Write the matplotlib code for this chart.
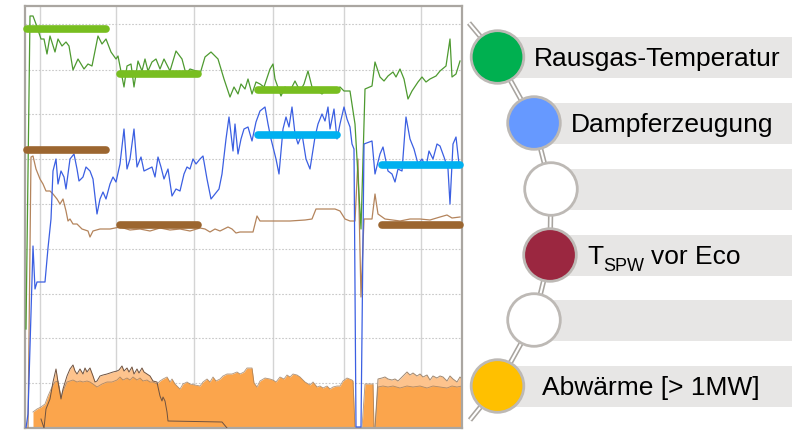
import matplotlib
matplotlib.use('Agg')
import matplotlib.pyplot as plt
from matplotlib.patches import Circle, Rectangle

plt.rcParams['font.family'] = ['Liberation Sans', 'DejaVu Sans']

# time axis in minutes, values in arbitrary units (no axis labels on the chart)
rauchgas_t = [1, 5, 8, 11, 16, 19, 22, 25, 30, 33, 37, 41, 44, 48, 53, 59, 63, 67, 73, 77, 81, 86, 91, 93,
              99, 102, 106, 109, 113, 117, 120, 123, 127, 131, 135, 139, 145, 151, 157, 161, 165, 171, 175,
              180, 186, 193, 199, 205, 209, 213, 216, 220, 223, 227, 231, 235, 239, 245, 248, 250, 256, 260,
              265, 270, 275, 279, 283, 287, 293, 297, 302, 307, 315, 319, 325, 330, 336, 340, 347, 350, 355,
              359, 363, 368, 371, 375, 379, 383, 387, 393, 397, 401, 405, 411, 415, 421, 425, 427, 431, 435]
rauchgas = [99, 412, 412, 404, 389, 389, 374, 392, 376, 389, 382, 386, 382, 358, 369, 359, 364, 362, 392, 384,
            389, 376, 369, 372, 341, 362, 364, 341, 367, 357, 369, 357, 366, 369, 359, 369, 357, 377, 369, 354,
            359, 357, 354, 371, 376, 369, 349, 331, 341, 334, 344, 339, 349, 334, 346, 344, 341, 359, 364, 349,
            332, 341, 337, 347, 337, 344, 357, 341, 337, 334, 339, 337, 341, 337, 337, 304, 199, 339, 342, 366,
            351, 347, 352, 356, 351, 359, 349, 329, 337, 346, 351, 346, 349, 352, 357, 362, 389, 351, 354, 367]

dampf_t = [1, 3, 8, 10, 12, 15, 20, 23, 26, 28, 31, 33, 36, 39, 41, 45, 49, 52, 54, 58, 61, 65, 68, 72, 75,
           78, 81, 85, 88, 91, 95, 99, 102, 105, 109, 112, 116, 119, 123, 127, 130, 133, 136, 139, 143, 147,
           151, 155, 159, 162, 165, 168, 171, 175, 178, 182, 186, 190, 194, 197, 201, 204, 208, 210, 213, 216,
           219, 223, 227, 231, 235, 240, 243, 246, 251, 254, 258, 261, 264, 267, 270, 273, 277, 281, 285, 290,
           293, 297, 300, 303, 305, 309, 312, 315, 319, 322, 325, 327, 329, 331, 336, 339, 347, 350, 355, 358,
           363, 367, 370, 373, 377, 381, 385, 389, 393, 397, 401, 404, 408, 412, 415, 419, 423, 425, 428, 431,
           434]
dampf = [0, 14, 182, 139, 146, 146, 146, 180, 209, 257, 269, 244, 257, 251, 239, 269, 274, 259, 247, 251, 261,
         257, 249, 214, 229, 236, 229, 244, 251, 246, 264, 299, 259, 269, 299, 261, 271, 257, 259, 261, 251,
         271, 261, 249, 259, 232, 239, 237, 254, 261, 259, 269, 264, 269, 272, 249, 229, 234, 239, 254, 289,
         311, 277, 304, 274, 289, 299, 301, 287, 306, 317, 321, 304, 289, 269, 254, 299, 311, 301, 321, 294,
         284, 294, 269, 259, 291, 304, 314, 307, 321, 299, 319, 289, 304, 321, 309, 301, 284, 279, 1, 1, 284,
         287, 254, 274, 281, 257, 254, 246, 259, 257, 311, 289, 279, 264, 269, 261, 277, 269, 284, 282, 271,
         259, 224, 284, 291, 264]

spw_t = [3, 6, 8, 11, 15, 18, 21, 25, 28, 32, 35, 38, 41, 43, 45, 48, 52, 57, 63, 65, 68, 75, 85, 95, 105,
         115, 125, 135, 145, 155, 165, 175, 180, 185, 190, 195, 203, 207, 211, 215, 218, 225, 228, 232, 235,
         250, 265, 280, 287, 291, 300, 310, 315, 320, 325, 330, 333, 336, 339, 347, 350, 353, 360, 375, 385,
         395, 405, 415, 422, 427, 435]
spw = [0, 271, 272, 259, 249, 244, 237, 237, 234, 229, 224, 229, 217, 207, 209, 204, 204, 199, 197, 191, 197,
       199, 199, 201, 198, 199, 197, 200, 198, 199, 197, 200, 199, 196, 199, 197, 201, 199, 195, 196, 196,
       196, 196, 212, 207, 207, 207, 208, 209, 219, 219, 219, 217, 209, 207, 207, 269, 131, 209, 209, 234,
       214, 209, 207, 209, 209, 208, 211, 213, 210, 211]

# Abwaerme: main (dark) area, peak envelope (light) and single line
abw_t = [8, 12, 16, 20, 23, 27, 30, 33, 36, 38, 42, 45, 48, 52, 55, 58, 62, 65, 68, 72, 77, 82, 87, 92, 95,
         98, 102, 105, 108, 112, 115, 118, 122, 125, 128, 132, 135, 138, 142, 145, 147, 150, 152, 155, 158,
         162, 165, 170, 175, 178, 182, 185, 188, 191, 195, 198, 202, 207, 212, 215, 219, 222, 227, 229, 232,
         235, 240, 245, 248, 251, 255, 259, 262, 265, 268, 272, 275, 280, 285, 288, 292, 295, 298, 302, 305,
         308, 312, 315, 318, 322, 327, 328, 330, 337, 340, 348, 349, 350, 353, 358, 363, 368, 375, 382, 388,
         395, 402, 408, 415, 422, 427, 432, 437]
abw = [16, 19, 21, 24, 32, 41, 46, 47, 31, 37, 46, 47, 48, 46, 47, 46, 47, 46, 44, 41, 44, 46, 46, 48, 51, 48,
       50, 48, 51, 48, 50, 47, 48, 46, 46, 44, 47, 49, 51, 46, 49, 44, 42, 39, 44, 46, 44, 43, 42, 46, 49, 46,
       51, 47, 49, 52, 54, 54, 56, 54, 56, 60, 60, 45, 41, 47, 50, 49, 48, 46, 51, 49, 53, 51, 54, 53, 51, 46,
       43, 46, 41, 42, 40, 42, 39, 41, 42, 42, 47, 50, 48, 47, 0, 0, 44, 44, 0, 0, 41, 42, 41, 42, 40, 42, 41,
       42, 40, 42, 41, 40, 42, 41, 42]

abw_peak_t = [350, 353, 357, 360, 363, 367, 370, 373, 377, 380, 382, 385, 388, 392, 395, 398, 402, 405, 408,
              412, 415, 418, 422, 425, 428, 432, 435, 437]
abw_peak = [0, 49, 50, 51, 49, 48, 49, 47, 51, 54, 56, 53, 55, 52, 54, 51, 53, 48, 52, 50, 52, 51, 47, 52, 49,
            46, 51, 49]

abw_line_t = [16, 19, 21, 25, 28, 31, 33, 36, 38, 42, 45, 48, 50, 52, 55, 58, 60, 62, 65, 68, 70, 72, 75, 78,
              82, 85, 88, 92, 94, 97, 99, 102, 104, 107, 109, 112, 114, 117, 119, 122, 125, 128, 132, 133, 135,
              137, 138, 140, 142, 143, 197, 202]
abw_line = [9, 0, 19, 29, 46, 59, 46, 29, 39, 52, 59, 63, 57, 54, 59, 54, 60, 56, 60, 52, 46, 47, 52, 53, 54,
            55, 56, 57, 58, 62, 57, 60, 56, 61, 54, 59, 55, 60, 56, 54, 52, 47, 46, 41, 32, 27, 31, 27, 16, 7,
            6, 0]

# target levels per period
periods = [(2, 81), (94.5, 172.5), (232.5, 311.5), (356.5, 434.5)]
ziel_rauchgas = [399, 354, 338, None]
ziel_dampf = [None, None, 293, 263]
ziel_spw = [278, 203, None, 203]

grid_x = [15, 91, 169, 248, 319, 396]
grid_y = [45, 90, 134, 179, 224, 269, 314, 358, 404]

legend_labels = ['Rausgas-Temperatur', 'Dampferzeugung', '', 'T_SPW vor Eco', '', 'Abwärme [> 1MW]']
legend_colors = ['#00b050', '#6699ff', '#ffffff', '#9b2740', '#ffffff', '#ffc000']

fig = plt.figure(figsize=(8.02, 4.31), dpi=100)
ax = fig.add_axes([25 / 802, 2 / 431, 437 / 802, 422 / 431])
ax.set_xlim(0, 437)
ax.set_ylim(0, 422)
ax.set_xticks(grid_x)
ax.set_yticks(grid_y)
ax.tick_params(length=0, labelbottom=False, labelleft=False)
ax.set_axisbelow(True)
ax.grid(axis='x', color='#d4d4d4', lw=1.0)
ax.grid(axis='y', color='#c8c8c8', lw=0.8, linestyle=(0, (1.5, 1.5)))
for sp in ax.spines.values():
    sp.set_color('#aaa6a1')
    sp.set_linewidth(1.6)

# orange areas
ax.fill_between(abw_line_t, 0, abw_line, color='#fdc38d', lw=0, zorder=1)
ax.fill_between(abw_peak_t, 0, abw_peak, color='#fdc38d', lw=0, zorder=1)
ax.plot(abw_peak_t, abw_peak, color='#a08870', lw=0.7, zorder=1.5)
ax.fill_between(abw_t, 0, abw, color='#fba54c', lw=0, zorder=2)
ax.plot(abw_t, abw, color='#9a7a5c', lw=0.6, alpha=0.8, zorder=2.5)
ax.plot(abw_line_t, abw_line, color='#6e5240', lw=0.7, zorder=3)

ax.plot(spw_t, spw, color='#b4845c', lw=0.9, zorder=4)
ax.plot(rauchgas_t, rauchgas, color='#4e9a30', lw=0.9, zorder=4)
ax.plot(dampf_t, dampf, color='#3b5fe2', lw=0.9, zorder=4)

for targets, col in [(ziel_rauchgas, '#78be20'), (ziel_dampf, '#00b0f0'), (ziel_spw, '#9c6630')]:
    for (a, b), v in zip(periods, targets):
        if v is None:
            continue
        ax.plot([a, b], [v, v], color=col, lw=5.5, solid_capstyle='round', clip_on=False, zorder=6)

# legend column on the right
lax = fig.add_axes([0, 0, 1, 1])
lax.set_xlim(0, 802)
lax.set_ylim(431, 0)
lax.axis('off')
lax.patch.set_visible(False)

centers = [(497.5, 58), (534, 124), (551, 190), (550, 256), (534, 321), (497.5, 387)]
text_x = [534, 571, 0, 587, 0, 542]
rail_x = [469] + [c[0] for c in centers] + [470]
rail_y = [24] + [c[1] for c in centers] + [421]
lax.plot(rail_x, rail_y, color='#a8a49f', lw=3.8, solid_capstyle='butt', zorder=2)
lax.plot(rail_x, rail_y, color='white', lw=1.5, solid_capstyle='butt', zorder=2.1)

for (cx, cy), lab, col, tx in zip(centers, legend_labels, legend_colors, text_x):
    lax.add_patch(Rectangle((cx, cy - 20.5), 792 - cx, 41, color='#e7e6e5', lw=0, zorder=1))
    lax.add_patch(Circle((cx, cy), 26.3, facecolor=col, edgecolor='#bdb9b5', lw=2, zorder=3))
    if lab.startswith('T_SPW'):
        lax.text(tx, cy + 8, 'T', fontsize=19, va='baseline', zorder=4)
        lax.text(tx + 16, cy + 15, 'SPW', fontsize=13, va='baseline', zorder=4)
        lax.text(tx + 64, cy + 8, 'vor Eco', fontsize=19, va='baseline', zorder=4)
    elif lab:
        lax.text(tx, cy + 8, lab, fontsize=19, va='baseline', zorder=4)

fig.savefig('out.png', dpi=100)
